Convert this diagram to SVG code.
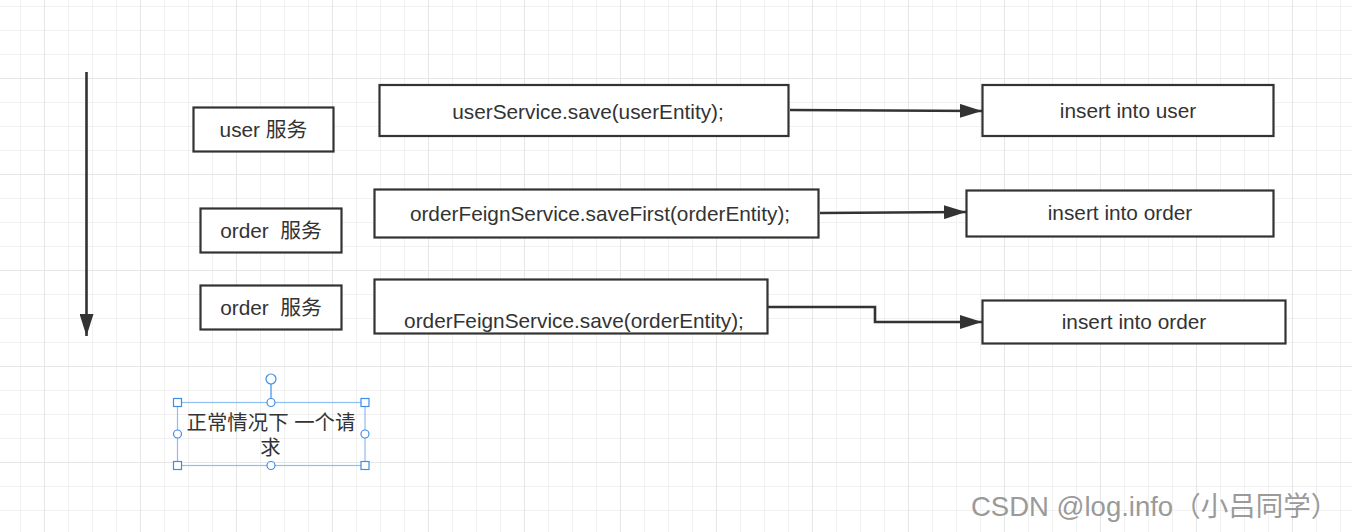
<svg xmlns="http://www.w3.org/2000/svg" width="1352" height="532" viewBox="0 0 1352 532">
  <style>
    .box { fill: #ffffff; stroke: #333333; stroke-width: 2.2; }
    .lbl { font-family: "Liberation Sans", "Noto Sans CJK SC", sans-serif; font-size: 20.8px; fill: #333333; text-anchor: middle; dominant-baseline: central; }
    .cjk { font-size: 20.4px; }
    .conn { fill: none; stroke: #333333; stroke-width: 2.6; }
    .sel { fill: none; stroke: #8fbdf0; stroke-width: 1.2; }
    .hnd { fill: #ffffff; stroke: #3d8ee8; stroke-width: 1.2; }
    .wm { font-family: "Liberation Sans", "Noto Sans CJK SC", sans-serif; font-size: 27.5px; fill: #9a9a9a; }
  </style>
  <defs>
    <pattern id="minor" x="20" y="6" width="24" height="24" patternUnits="userSpaceOnUse">
      <path d="M0.5 0 V24 M0 0.5 H24" fill="none" stroke="#f1f1f1" stroke-width="1"/>
    </pattern>
    <pattern id="major" x="44" y="78" width="96" height="96" patternUnits="userSpaceOnUse">
      <path d="M0.5 0 V96 M0 0.5 H96" fill="none" stroke="#e6e6e6" stroke-width="1"/>
    </pattern>
    <marker id="arr" markerUnits="userSpaceOnUse" markerWidth="22" markerHeight="14" refX="22" refY="7" orient="auto">
      <path d="M0 0 L22 7 L0 14 Z" fill="#333333"/>
    </marker>
  </defs>

  <rect width="1352" height="532" fill="#ffffff"/>
  <rect width="1352" height="532" fill="url(#minor)"/>
  <rect width="1352" height="532" fill="url(#major)"/>

  <g id="connectors">
    <path class="conn" d="M86.5 72 V336" marker-end="url(#arr)"/>
    <path class="conn" d="M790 110 L982 111" marker-end="url(#arr)"/>
    <path class="conn" d="M820 213 L966 212" marker-end="url(#arr)"/>
    <path class="conn" d="M768 307 H875 V322 H982" marker-end="url(#arr)"/>
  </g>

  <g id="user-service">
    <rect class="box" x="193.5" y="107.5" width="140" height="44"/>
    <text class="lbl" x="263.5" y="129.5">user 服务</text>
  </g>
  <g id="order-service-1">
    <rect class="box" x="200.5" y="208.5" width="141" height="44"/>
    <text class="lbl" x="271" y="230.5" xml:space="preserve">order  服务</text>
  </g>
  <g id="order-service-2">
    <rect class="box" x="200.5" y="285.5" width="141" height="44"/>
    <text class="lbl" x="271" y="307.5" xml:space="preserve">order  服务</text>
  </g>

  <g id="user-save">
    <rect class="box" x="379.5" y="85" width="409" height="51"/>
    <text class="lbl" x="588" y="111">userService.save(userEntity);</text>
  </g>
  <g id="insert-user">
    <rect class="box" x="982.5" y="85" width="291" height="51"/>
    <text class="lbl" x="1128" y="110.5">insert into user</text>
  </g>

  <g id="order-save-first">
    <rect class="box" x="374.5" y="189.5" width="444" height="48"/>
    <text class="lbl" x="600" y="213.5">orderFeignService.saveFirst(orderEntity);</text>
  </g>
  <g id="insert-order-1">
    <rect class="box" x="966.5" y="190.5" width="307" height="46"/>
    <text class="lbl" x="1120" y="212.5">insert into order</text>
  </g>

  <g id="order-save">
    <rect class="box" x="374.5" y="279.5" width="393" height="54"/>
    <text class="lbl" x="574" y="320.5">orderFeignService.save(orderEntity);</text>
  </g>
  <g id="insert-order-2">
    <rect class="box" x="982.5" y="300.5" width="303" height="43"/>
    <text class="lbl" x="1134" y="321.5">insert into order</text>
  </g>

  <g id="note">
    <text class="lbl cjk" x="271" y="422.5">正常情况下 一个请</text>
    <text class="lbl cjk" x="270.5" y="447.5">求</text>
    <rect class="sel" x="177.5" y="402.5" width="187.5" height="63"/>
    <line x1="271" y1="384" x2="271" y2="398" stroke="#3d8ee8" stroke-width="1.2"/>
    <circle class="hnd" cx="271" cy="379" r="5"/>
    <rect class="hnd" x="173.5" y="398.5" width="8" height="8"/>
    <rect class="hnd" x="361" y="398.5" width="8" height="8"/>
    <rect class="hnd" x="173.5" y="461.5" width="8" height="8"/>
    <rect class="hnd" x="361" y="461.5" width="8" height="8"/>
    <circle class="hnd" cx="271" cy="402.5" r="4"/>
    <circle class="hnd" cx="271" cy="465.5" r="4"/>
    <circle class="hnd" cx="177.5" cy="434" r="4"/>
    <circle class="hnd" cx="365" cy="434" r="4"/>
  </g>

  <g id="watermark">
    <text class="wm" x="971" y="516">CSDN @log.info（小吕同学）</text>
  </g>
</svg>
